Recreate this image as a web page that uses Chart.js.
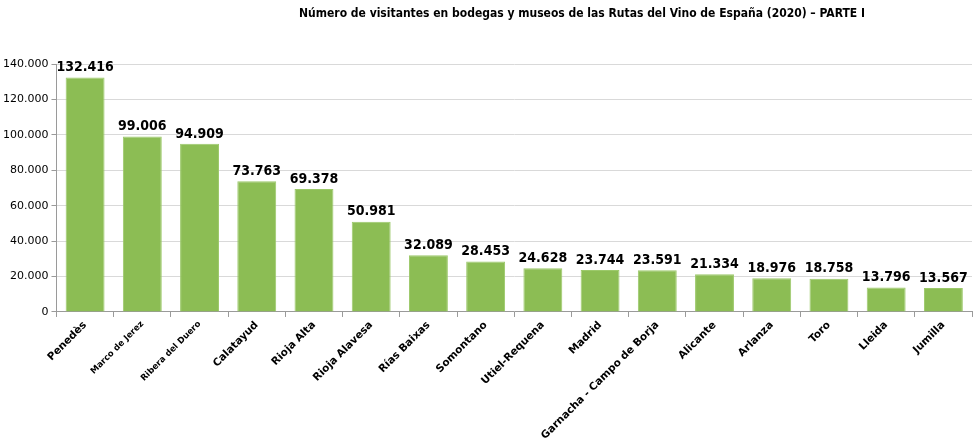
<!DOCTYPE html>
<html>
<head>
<meta charset="utf-8">
<script src="https://cdn.jsdelivr.net/npm/chart.js@4"></script>
<style>
  html, body { margin: 0; padding: 0; background: #fff; }
  #wrap { width: 980px; height: 444px; position: relative; }
</style>
</head>
<body>
<div id="wrap"><canvas id="myChart"></canvas></div>
<script>
const titleText = "Número de visitantes en bodegas y museos de las Rutas del Vino de España (2020) – PARTE I";
const rutas = ["Penedès", "Marco de Jerez", "Ribera del Duero", "Calatayud", "Rioja Alta", "Rioja Alavesa",
  "Rías Baixas", "Somontano", "Utiel-Requena", "Madrid", "Garnacha - Campo de Borja", "Alicante",
  "Arlanza", "Toro", "Lleida", "Jumilla"];
const visitantes = [132416, 99006, 94909, 73763, 69378, 50981, 32089, 28453, 24628, 23744, 23591, 21334,
  18976, 18758, 13796, 13567];
const smallLabels = ["Marco de Jerez", "Ribera del Duero"];

function fmt(v) {
  return v.toString().replace(/\B(?=(\d{3})+(?!\d))/g, ".");
}

// value labels above bars + title
const extras = {
  id: "extras",
  afterDatasetsDraw(chart) {
    const c = chart.ctx;
    const meta = chart.getDatasetMeta(0);
    c.save();
    c.fillStyle = "#000";
    c.font = "bold 14px 'DejaVu Sans Condensed'";
    c.textAlign = "center";
    c.textBaseline = "bottom";
    meta.data.forEach((bar, i) => {
      c.fillText(fmt(visitantes[i]), bar.x, bar.y - 3);
    });
    c.font = "bold 12px 'DejaVu Sans Condensed'";
    c.textBaseline = "middle";
    c.fillText(titleText, 582, 14);
    c.restore();
  }
};

new Chart(document.getElementById("myChart"), {
  type: "bar",
  data: {
    labels: rutas,
    datasets: [{
      data: visitantes,
      backgroundColor: "#8cbd54",
      borderColor: "#9cc96a",
      borderWidth: 1,
      barPercentage: 0.68,
      categoryPercentage: 1
    }]
  },
  options: {
    responsive: true,
    maintainAspectRatio: false,
    animation: false,
    layout: { padding: { top: 64, right: 8, left: 0, bottom: 0 } },
    plugins: {
      legend: { display: false },
      tooltip: { enabled: false }
    },
    scales: {
      y: {
        min: 0,
        max: 140000,
        ticks: {
          stepSize: 20000,
          color: "#000",
          padding: 3,
          font: { family: "'DejaVu Sans'", size: 11 },
          callback: (v) => fmt(v)
        },
        grid: { color: "#d9d9d9", tickLength: 5, tickColor: "#9a9a9a" },
        border: { color: "#9a9a9a" }
      },
      x: {
        ticks: {
          color: "#000",
          minRotation: 45,
          maxRotation: 45,
          autoSkip: false,
          padding: 2,
          font: (ctx) => ({
            family: "'DejaVu Sans'",
            weight: "bold",
            size: smallLabels.includes(rutas[ctx.index]) ? 8.5 : 10.5
          })
        },
        grid: { display: true, drawOnChartArea: false, offset: true, tickLength: 5, color: "#9a9a9a" },
        border: { color: "#9a9a9a" }
      }
    }
  },
  plugins: [extras]
});
</script>
</body>
</html>
